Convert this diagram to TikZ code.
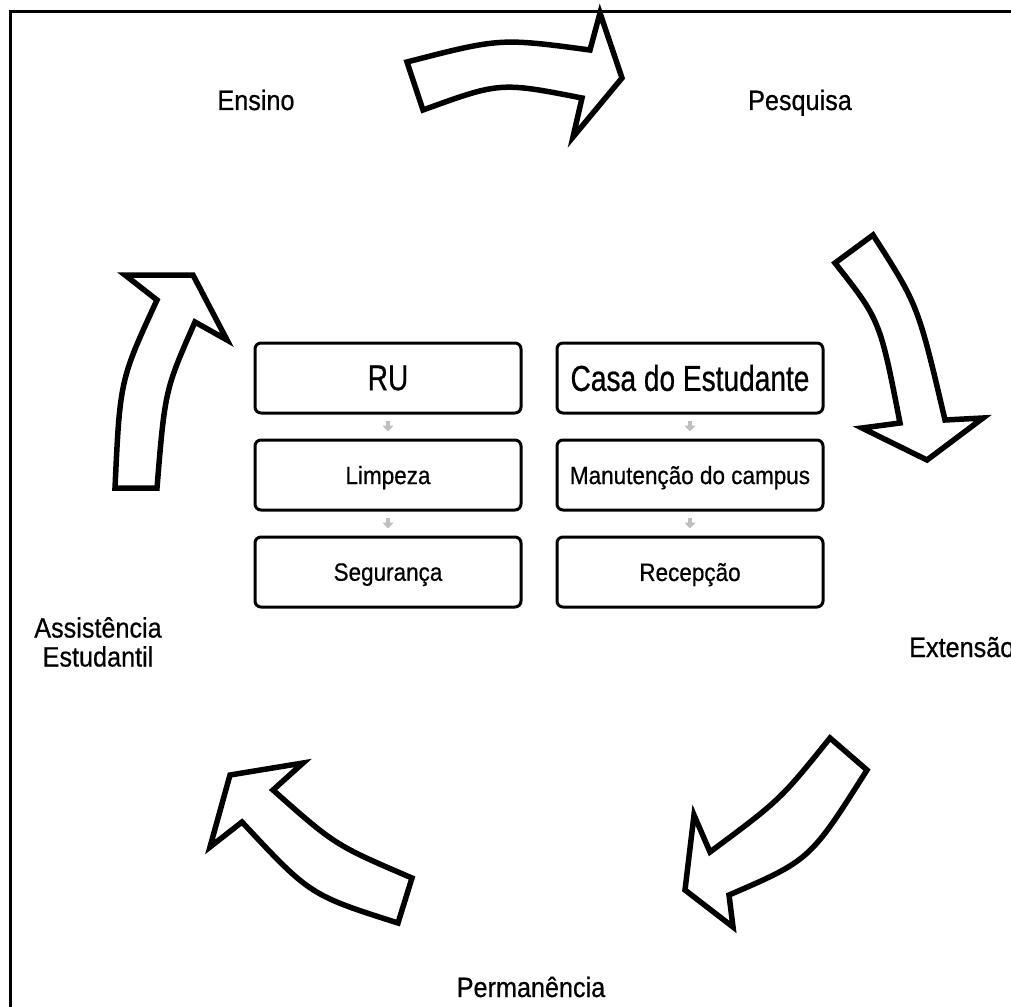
\documentclass[tikz,border=0pt]{standalone}
\usepackage{fontspec}
\setmainfont{Liberation Sans}[FakeStretch=0.9, FakeBold=0.6]
\newfontfamily\headfont{Liberation Sans}[FakeStretch=0.78, FakeBold=0.6]
\usetikzlibrary{arrows.meta}

\begin{document}
\begin{tikzpicture}[x=1pt, y=-1pt,
    box/.style={draw, line width=3pt, rounded corners=6pt, minimum width=266pt, minimum height=70pt, inner sep=0pt},
    headtext/.style={font=\headfont\fontsize{36}{38}\selectfont},
    itemtext/.style={font=\fontsize{25}{27}\selectfont, text depth=0pt},
    stage/.style={font=\fontsize{28}{29}\selectfont, inner sep=0pt, align=center},
    bigarrow/.style={draw, fill=white, line width=5.5pt},
    smallarrow/.style={draw=gray!50, line width=3.5pt, -{Triangle[length=6pt,width=11pt]}, shorten <=6pt, shorten >=7pt}]

    \useasboundingbox (0,0) rectangle (1011,1006);

    % Frame (right and bottom lie outside the page)
    \draw[line width=3.5pt] (10.5,1020) -- (10.5,11.5) -- (1020,11.5);

    % Stages of the cycle
    \node[stage, anchor=base] (ensino) at (256,110) {Ensino};
    \node[stage, anchor=base] (pesquisa) at (800,110) {Pesquisa};
    \node[stage, anchor=base west] (extensao) at (909,657) {Extensão};
    \node[stage, anchor=base] (permanencia) at (531,997) {Permanência};
    \node[stage, anchor=south] (assistencia) at (98,667) {Assistência\\Estudantil};

    % Block arrows between the stages
    \draw[bigarrow] (407,62) .. controls (500,38) .. (590,50) -- (600,13) -- (622,78)
        -- (573,137) -- (582,98) .. controls (500,82) .. (423,110) -- cycle;
    \draw[bigarrow] (835,263) -- (873,235) .. controls (918,305) .. (945,420) -- (983,418)
        -- (927,460) -- (862,428) -- (900,423) .. controls (880,320) .. (835,263) -- cycle;
    \draw[bigarrow] (830,738) -- (867,770) .. controls (810,860) .. (729,895) -- (733,927)
        -- (685,890) -- (694,815) -- (710,852) .. controls (780,800) .. (830,738) -- cycle;
    \draw[bigarrow] (412,878) .. controls (335,845) .. (273,790) -- (303,763) -- (230,775)
        -- (210,847) -- (242,822) .. controls (310,895) .. (398,923) -- cycle;
    \draw[bigarrow] (115,488) -- (157,488) .. controls (165,390) .. (195,322) -- (227,340)
        -- (193,275) -- (125,275) -- (157,300) .. controls (120,380) .. (115,488) -- cycle;

    % Left column
    \node[box, headtext] (ru) at (388,378) {RU};
    \node[box, itemtext] (limpeza) at (388,475) {Limpeza};
    \node[box, itemtext] (seguranca) at (388,572) {Segurança};

    % Right column
    \node[box, headtext] (casa) at (690,378) {Casa do Estudante};
    \node[box, itemtext] (manutencao) at (690,475) {Manutenção do campus};
    \node[box, itemtext] (recepcao) at (690,572) {Recepção};

    % Small arrows inside the columns
    \draw[smallarrow] (ru) -- (limpeza);
    \draw[smallarrow] (limpeza) -- (seguranca);
    \draw[smallarrow] (casa) -- (manutencao);
    \draw[smallarrow] (manutencao) -- (recepcao);

\end{tikzpicture}
\end{document}
